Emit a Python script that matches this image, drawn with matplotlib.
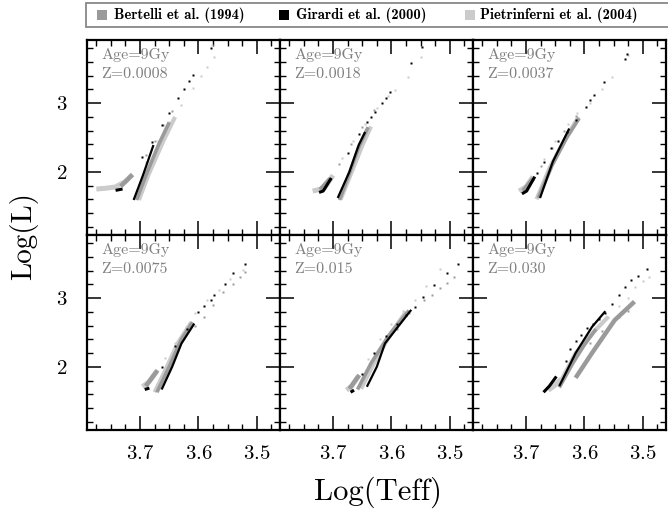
import matplotlib
matplotlib.use("Agg")
import matplotlib.pyplot as plt
import matplotlib.patches as mpatches
from matplotlib.ticker import MultipleLocator

plt.rcParams["font.family"] = ["cmr10", "DejaVu Serif"]
plt.rcParams["axes.formatter.use_mathtext"] = True

# ==============================
# DATA  (log Teff, log L), one entry per panel
# ==============================
z_labels = ["Z=0.0008", "Z=0.0018", "Z=0.0037", "Z=0.0075", "Z=0.015", "Z=0.030"]
age_label = "Age=9Gy"
models = ["Bertelli et al. (1994)", "Girardi et al. (2000)", "Pietrinferni et al. (2004)"]
colors = ["#9a9a9a", "#000000", "#cbcbcb"]

# Girardi et al. (2000)
girardi_rgb = [
    ([3.711, 3.695, 3.677], [1.59, 1.95, 2.39]),
    ([3.692, 3.672, 3.656, 3.645], [1.62, 2.00, 2.39, 2.58]),
    ([3.676, 3.654, 3.626], [1.62, 2.15, 2.63]),
    ([3.663, 3.645, 3.629, 3.607], [1.67, 2.00, 2.34, 2.63]),
    ([3.642, 3.625, 3.611, 3.566], [1.71, 2.00, 2.34, 2.83]),
    ([3.643, 3.615, 3.587, 3.564], [1.72, 2.20, 2.58, 2.81]),
]
girardi_hb = [
    ([3.742, 3.730], [1.73, 1.75]),
    ([3.724, 3.717, 3.703], [1.70, 1.72, 1.91]),
    ([3.707, 3.699, 3.685], [1.68, 1.72, 1.93]),
    ([3.692, 3.684], [1.67, 1.69]),
    ([3.670, 3.664], [1.63, 1.66]),
    ([3.670, 3.660, 3.648], [1.63, 1.72, 1.86]),
]
girardi_agb = [
    ([3.697, 3.680, 3.663, 3.650, 3.635, 3.625, 3.616, 3.609, 3.579],
     [2.22, 2.44, 2.68, 2.85, 3.07, 3.20, 3.33, 3.41, 3.81]),
    ([3.675, 3.655, 3.642, 3.635, 3.628, 3.616, 3.610, 3.602, 3.566, 3.547],
     [2.27, 2.55, 2.73, 2.80, 2.87, 3.00, 3.08, 3.16, 3.58, 3.82]),
    ([3.682, 3.670, 3.658, 3.645, 3.630, 3.615, 3.598, 3.590, 3.584, 3.567, 3.531, 3.527],
     [1.98, 2.15, 2.34, 2.45, 2.58, 2.75, 2.95, 3.05, 3.12, 3.31, 3.65, 3.71]),
    ([3.663, 3.640, 3.620, 3.600, 3.590, 3.579, 3.573, 3.554, 3.540, 3.520],
     [2.00, 2.30, 2.55, 2.80, 2.88, 2.97, 3.05, 3.21, 3.36, 3.50]),
    ([3.650, 3.630, 3.610, 3.590, 3.575, 3.560, 3.545, 3.527, 3.505, 3.485],
     [1.90, 2.20, 2.45, 2.62, 2.75, 2.87, 3.02, 3.19, 3.36, 3.50]),
    ([3.632, 3.625, 3.615, 3.605, 3.595, 3.585, 3.575, 3.565, 3.553, 3.540, 3.531, 3.520, 3.508, 3.492],
     [2.08, 2.26, 2.38, 2.47, 2.56, 2.62, 2.70, 2.78, 2.92, 3.05, 3.16, 3.26, 3.33, 3.42]),
]

# Bertelli et al. (1994)
bertelli_rgb = [
    ([3.706, 3.690, 3.668, 3.650], [1.59, 1.95, 2.40, 2.72]),
    ([3.689, 3.672, 3.656, 3.640], [1.59, 1.98, 2.36, 2.65]),
    ([3.679, 3.655, 3.630, 3.609], [1.62, 2.10, 2.50, 2.78]),
    ([3.671, 3.650, 3.629, 3.610], [1.63, 2.00, 2.40, 2.65]),
    ([3.658, 3.635, 3.605, 3.570], [1.67, 2.05, 2.45, 2.82]),
    ([3.643, 3.620, 3.600, 3.580], [1.70, 2.05, 2.32, 2.55]),
]
bertelli_hb = [
    ([3.733, 3.713], [1.79, 1.96]),
    ([3.722, 3.705], [1.74, 1.90]),
    ([3.705, 3.688], [1.72, 1.90]),
    ([3.690, 3.670], [1.72, 1.95]),
    ([3.672, 3.655], [1.68, 1.88]),
    ([3.615, 3.587, 3.548, 3.514], [1.84, 2.20, 2.68, 2.95]),
]
bertelli_agb = [
    ([3.690, 3.675, 3.660, 3.645], [2.25, 2.45, 2.68, 2.88]),
    ([3.690, 3.670, 3.650, 3.630], [2.12, 2.40, 2.65, 2.90]),
    ([3.675, 3.655, 3.635, 3.615], [2.08, 2.35, 2.60, 2.82]),
    ([3.605, 3.590, 3.575, 3.557, 3.540, 3.529, 3.520], [2.60, 2.73, 2.90, 3.09, 3.20, 3.31, 3.38]),
    ([3.590, 3.570, 3.544, 3.530, 3.516, 3.505, 3.493], [2.55, 2.78, 2.97, 3.05, 3.15, 3.22, 3.31]),
    ([3.590, 3.570, 3.555, 3.540, 3.525], [2.35, 2.52, 2.62, 2.72, 2.82]),
]

# Pietrinferni et al. (2004)
pietr_rgb = [
    ([3.702, 3.686, 3.660, 3.640], [1.59, 1.95, 2.45, 2.80]),
    ([3.687, 3.668, 3.650, 3.635], [1.60, 2.00, 2.38, 2.66]),
    ([3.682, 3.660, 3.635, 3.610], [1.60, 2.05, 2.45, 2.80]),
    ([3.675, 3.655, 3.635, 3.612], [1.63, 1.98, 2.35, 2.65]),
    ([3.652, 3.630, 3.600, 3.575], [1.68, 2.05, 2.50, 2.80]),
    ([3.645, 3.615, 3.585, 3.559], [1.72, 2.20, 2.50, 2.73]),
]
pietr_hb = [
    ([3.775, 3.760, 3.742, 3.725, 3.713], [1.75, 1.76, 1.78, 1.86, 1.96]),
    ([3.735, 3.715, 3.700], [1.72, 1.76, 1.95]),
    ([3.712, 3.700, 3.688], [1.72, 1.78, 1.93]),
    ([3.696, 3.685, 3.672], [1.71, 1.78, 1.93]),
    ([3.677, 3.668, 3.657], [1.66, 1.72, 1.86]),
    ([3.662, 3.652, 3.640], [1.66, 1.72, 1.82]),
]
pietr_agb = [
    ([3.690, 3.670, 3.650, 3.630, 3.610, 3.595, 3.585, 3.573, 3.576],
     [2.15, 2.45, 2.72, 2.98, 3.22, 3.40, 3.52, 3.67, 3.84]),
    ([3.684, 3.665, 3.645, 3.625, 3.605, 3.594, 3.572, 3.549],
     [2.20, 2.45, 2.70, 2.93, 3.10, 3.19, 3.38, 3.67]),
    ([3.670, 3.650, 3.628, 3.613, 3.590, 3.570, 3.553, 3.525],
     [2.18, 2.45, 2.70, 2.85, 3.00, 3.20, 3.38, 3.70]),
    ([3.657, 3.640, 3.622, 3.605, 3.585, 3.565, 3.545, 3.524],
     [2.13, 2.35, 2.58, 2.78, 2.97, 3.12, 3.28, 3.41]),
    ([3.660, 3.640, 3.620, 3.600, 3.580, 3.560, 3.540, 3.516],
     [1.85, 2.12, 2.40, 2.62, 2.82, 2.98, 3.18, 3.42]),
    ([3.600, 3.580, 3.560, 3.540, 3.525, 3.514, 3.500, 3.490],
     [2.40, 2.58, 2.72, 2.88, 3.00, 3.16, 3.25, 3.31]),
]

# ==============================
# FIGURE
# ==============================
W, H = 668, 512
fig = plt.figure(figsize=(W / 100, H / 100), dpi=100)

left, pw = 87 / W, 193 / W
top, ph = 1 - 40 / H, 195 / H

# draw order: light, mid, black on top ; (colour, rgb, hb, agb, line width)
sets = [
    (colors[2], pietr_rgb, pietr_hb, pietr_agb, 3.0),
    (colors[0], bertelli_rgb, bertelli_hb, bertelli_agb, 2.6),
    (colors[1], girardi_rgb, girardi_hb, girardi_agb, 1.6),
]

for i in range(6):
    row, col = divmod(i, 3)
    ax = fig.add_axes([left + col * pw, top - (row + 1) * ph, pw, ph])

    for c, rgb, hb, agb, lw in sets:
        ax.plot(rgb[i][0], rgb[i][1], color=c, lw=lw, solid_capstyle="butt")
        ax.plot(hb[i][0], hb[i][1], color=c, lw=lw + 0.6, solid_capstyle="butt")
        ax.plot(agb[i][0], agb[i][1], ls="none", marker="s", ms=1.8, color=c, mec="none")

    ax.set_xlim(3.791, 3.460)
    ax.set_ylim(1.08, 3.92)
    ax.xaxis.set_major_locator(MultipleLocator(0.1))
    ax.xaxis.set_minor_locator(MultipleLocator(0.025))
    ax.yaxis.set_major_locator(MultipleLocator(1))
    ax.yaxis.set_minor_locator(MultipleLocator(0.2))
    ax.tick_params(which="both", direction="in", top=True, right=True, labelsize=15)
    ax.tick_params(axis="x", pad=11)
    ax.tick_params(axis="y", pad=14)
    ax.tick_params(which="major", length=10, width=1.1)
    ax.tick_params(which="minor", length=4.5, width=1.0)
    for s in ax.spines.values():
        s.set_linewidth(1.6)

    if col != 0:
        ax.tick_params(labelleft=False)
    if row == 0:
        ax.tick_params(labelbottom=False)

    ax.text(0.075, 0.925, age_label, transform=ax.transAxes, color="#808080",
            fontsize=11.5, va="center", ha="left")
    ax.text(0.075, 0.825, z_labels[i], transform=ax.transAxes, color="#808080",
            fontsize=11.5, va="center", ha="left")

fig.text(24 / W, 1 - 236 / H, "Log(L)", rotation=90, fontsize=21,
         ha="center", va="center")
fig.text(378 / W, 1 - 492 / H, "Log(Teff)", fontsize=22, ha="center", va="center")

# legend strip across the top, placed by hand
fig.patches.append(mpatches.Rectangle((86 / W, 1 - 27 / H), 600 / W, 24 / H,
                                      transform=fig.transFigure, facecolor="white",
                                      edgecolor="#888888", lw=1.3))
key_x = [97, 279, 465]
text_x = [114, 296, 480]
for c, name, kx, tx in zip(colors, models, key_x, text_x):
    fig.patches.append(mpatches.Rectangle((kx / W, 1 - 20 / H), 10 / W, 10 / H,
                                          transform=fig.transFigure,
                                          facecolor=c, edgecolor="none"))
    fig.text(tx / W, 1 - 15 / H, name, fontsize=10.5, family="cmb10",
             ha="left", va="center")

fig.savefig("out.png", dpi=100)
